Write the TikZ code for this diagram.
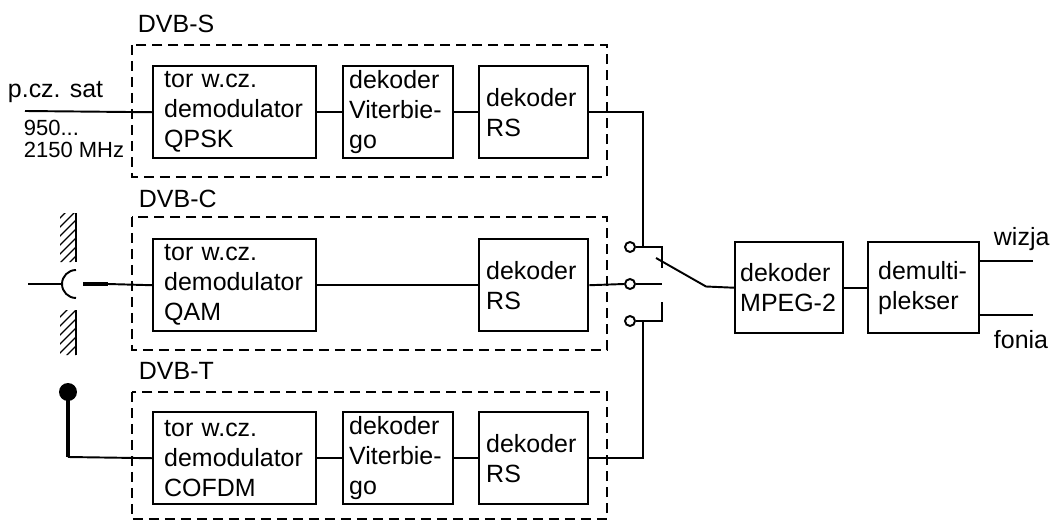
\documentclass[tikz,border=0pt]{standalone}
\usepackage{fontspec}
\setmainfont{Liberation Sans}
\begin{document}
\begin{tikzpicture}[x=0.02cm, y=-0.02cm, line width=1.1pt,
    blok/.style={draw, line width=1.4pt, anchor=north west, align=left, inner ysep=0pt,
        minimum height=1.84cm, font=\fontsize{14.2}{17.1}\selectfont},
    tor/.style={blok, inner xsep=0.22cm, text width=2.82cm},
    vit/.style={blok, inner xsep=0.12cm, text width=1.96cm},
    rs/.style={blok, inner xsep=0.14cm, text width=1.9cm},
    ramka/.style={dash pattern=on 0.2cm off 0.12cm},
    opis/.style={anchor=base west, inner sep=0pt, font=\fontsize{14.2}{17.1}\selectfont},
    maly/.style={anchor=base west, inner sep=0pt, font=\fontsize{12.5}{12}\selectfont},
    styk/.style={draw, circle, minimum size=0.2cm, inner sep=0pt},
    kropka/.style={circle, fill, minimum size=0.36cm, inner sep=0pt}]
    \useasboundingbox (0,0) rectangle (1050,520);
    % Dashed frames with their labels
    \draw[ramka] (132,45) rectangle (607,177);
    \draw[ramka] (132,217) rectangle (607,350);
    \draw[ramka] (132,392) rectangle (607,519);
    \node[opis] (dvbs) at (137,33) {DVB-S};
    \node[opis] (dvbc) at (138,207) {DVB-C};
    \node[opis] (dvbt) at (138,379) {DVB-T};
    % DVB-S row
    \node[tor] (torS) at (152,65) {tor w.cz.\\demodulator\\QPSK};
    \node[vit] (vitS) at (342,65) {dekoder\\Viterbie-\\go};
    \node[rs] (rsS) at (478,65) {dekoder\\RS};
    \node[opis] (pcz) at (7,98) {p.cz. sat};
    \node[maly] (f1) at (23,136) {950...};
    \node[maly] (f2) at (23,157) {2150 MHz};
    \coordinate (wejS) at (25,111);
    \draw (wejS) -- (torS.west);
    \draw (torS.east) -- (vitS.west);
    \draw (vitS.east) -- (rsS.west);
    % DVB-C row
    \node[tor] (torC) at (152,238) {tor w.cz.\\demodulator\\QAM};
    \node[rs] (rsC) at (478,238) {dekoder\\RS};
    \draw (torC.east) -- (rsC.west);
    % cable socket in the wall
    \begin{scope}
        \clip (60,213) rectangle (76,262) (60,310) rectangle (76,355);
        \foreach \y in {213,222,...,380}
            \draw[line width=0.7pt] (56,\y) -- (80,\y-24);
    \end{scope}
    \draw (76,213) -- (76,262);
    \draw (76,310) -- (76,355);
    \draw (76,270) arc[start angle=90, end angle=270, radius=0.28cm];
    \draw (28,284) -- (62,284);
    \draw[line width=0.09cm] (83,284) -- (108,284);
    \coordinate (wtyk) at (108,284);
    \draw (wtyk) -- (torC.west);
    % DVB-T row
    \node[tor] (torT) at (152,411) {tor w.cz.\\demodulator\\COFDM};
    \node[vit] (vitT) at (342,411) {dekoder\\Viterbie-\\go};
    \node[rs] (rsT) at (478,411) {dekoder\\RS};
    \node[kropka] (antT) at (68,392) {};
    \coordinate (zgiecie) at (68,457);
    \draw[line width=0.08cm] (antT.center) -- (zgiecie);
    \draw (zgiecie) -- (torT.west);
    \draw (torT.east) -- (vitT.west);
    \draw (vitT.east) -- (rsT.west);
    % Switch
    \node[styk] (sS) at (630,247) {};
    \node[styk] (sC) at (630,284) {};
    \node[styk] (sT) at (630,321) {};
    \coordinate (zS) at (643,247);
    \coordinate (zT) at (643,321);
    \draw (rsS.east) -| (zS);
    \draw (rsT.east) -| (zT);
    \draw (sS.east) -- ++(26,0) -- ++(0,21);
    \draw (rsC.east) -- (sC.west);
    \draw (sC.east) -- ++(26,0);
    \draw (sT.east) -- ++(26,0) -- ++(0,-19);
    % MPEG decoder and demultiplexer
    \node[blok, inner xsep=0.1cm, text width=1.96cm, minimum height=1.82cm] (mpeg) at (734,241) {dekoder\\MPEG-2};
    \node[blok, inner xsep=0.2cm, text width=1.82cm, minimum height=1.82cm] (demux) at (867,241) {demulti-\\plekser};
    \coordinate (ramie) at (656,258);
    \coordinate (kolano) at (706,286.5);
    \draw (ramie) -- (kolano) -- (mpeg.west);
    \draw (mpeg.east) -- (demux.west);
    \coordinate (wyW) at (1033,261);
    \coordinate (wyF) at (1033,315);
    \draw (demux.east |- wyW) -- (wyW);
    \draw (demux.east |- wyF) -- (wyF);
    \node[opis] (wizja) at (993,245) {wizja};
    \node[opis] (fonia) at (993,348) {fonia};
\end{tikzpicture}
\end{document}
